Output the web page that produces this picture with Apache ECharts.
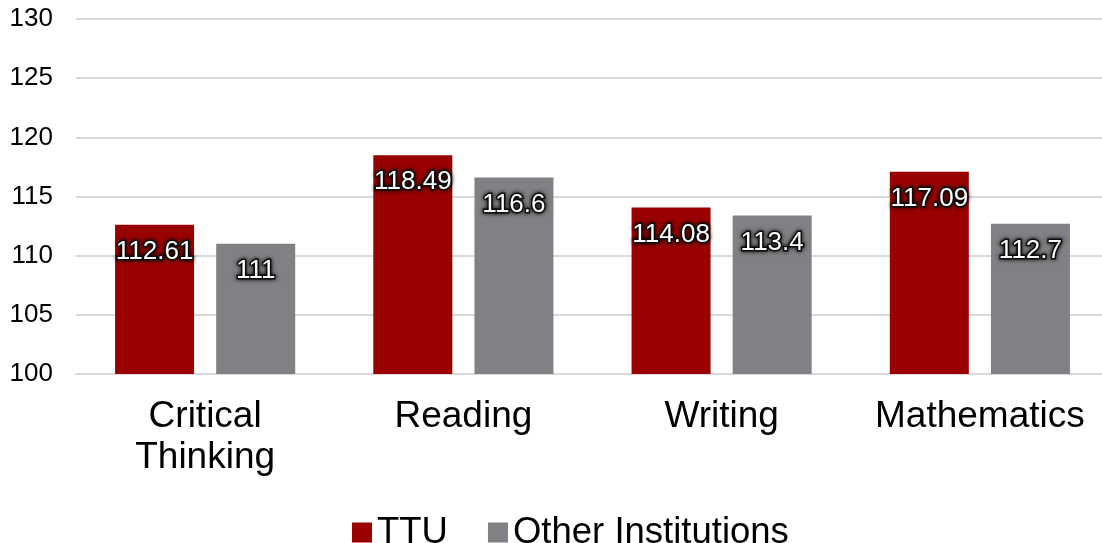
<!DOCTYPE html>
<html>
<head>
<meta charset="utf-8">
<script src="https://cdn.jsdelivr.net/npm/echarts@6/dist/echarts.min.js"></script>
<style>
  html, body { margin: 0; padding: 0; background: #fff; }
  #chart { width: 1102px; height: 543px; }
</style>
</head>
<body>
<div id="chart"></div>
<script>
  // chart values
  var categories = ['Critical\nThinking', 'Reading', 'Writing', 'Mathematics'];
  var ttuScores = [112.61, 118.49, 114.08, 117.09];
  var otherScores = [111, 116.6, 113.4, 112.7];
  var seriesNames = ['TTU', 'Other Institutions'];

  var font = '"Liberation Sans", Arial, sans-serif';

  function barLabel() {
    return {
      show: true,
      position: 'insideTop',
      distance: 14,
      color: '#fff',
      fontFamily: font,
      fontSize: 26,
      textBorderColor: '#111',
      textBorderWidth: 3,
      textShadowColor: 'rgba(0,0,0,0.8)',
      textShadowBlur: 4
    };
  }

  var chart = echarts.init(document.getElementById('chart'));
  chart.setOption({
    animation: false,
    grid: { left: 76, width: 1033, top: 19, height: 355, outerBoundsMode: 'none' },
    legend: {
      data: seriesNames,
      left: 347,
      top: 509,
      icon: 'rect',
      itemWidth: 20,
      itemHeight: 20,
      itemGap: 40,
      itemTextGap: 10,
      textStyle: { fontFamily: font, fontSize: 36.5, color: '#000' }
    },
    xAxis: {
      type: 'category',
      data: categories,
      axisTick: { show: false },
      axisLine: { lineStyle: { color: '#d9d9d9', width: 2 } },
      axisLabel: {
        margin: 22,
        fontFamily: font,
        fontSize: 37,
        lineHeight: 41,
        color: '#000',
        interval: 0
      }
    },
    yAxis: {
      type: 'value',
      min: 100,
      max: 130,
      interval: 5,
      axisLine: { show: false },
      axisTick: { show: false },
      axisLabel: { margin: 23, fontFamily: font, fontSize: 26, color: '#000' },
      splitLine: { lineStyle: { color: '#d9d9d9', width: 2 } }
    },
    series: [{
      name: seriesNames[0],
      type: 'bar',
      barWidth: 79,
      barGap: '28%',
      itemStyle: { color: '#990000' },
      label: barLabel(),
      data: ttuScores
    }, {
      name: seriesNames[1],
      type: 'bar',
      barWidth: 79,
      barGap: '28%',
      itemStyle: { color: '#808184' },
      label: barLabel(),
      data: otherScores
    }]
  });
</script>
</body>
</html>
